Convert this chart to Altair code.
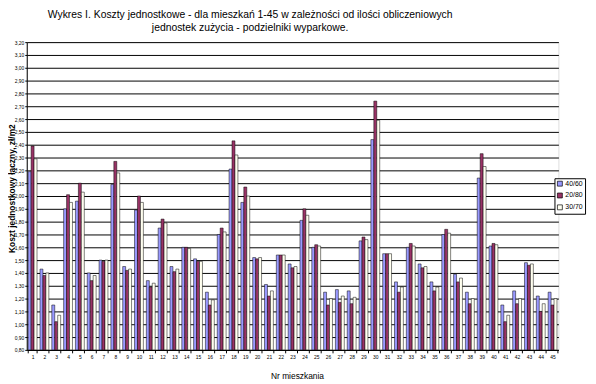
import altair as alt
import pandas as pd

apartments = list(range(1, 46))
series_names = ["40/60", "20/80", "30/70"]
colors = ["#9999FF", "#993366", "#FFFFF0"]

s40_60 = [2.19, 1.43, 1.15, 1.90, 1.96, 1.40, 1.50, 2.09, 1.45, 1.89,
          1.34, 1.75, 1.45, 1.60, 1.51, 1.25, 1.70, 2.21, 1.95, 1.52,
          1.31, 1.54, 1.47, 1.81, 1.60, 1.25, 1.27, 1.26, 1.65, 2.44,
          1.55, 1.33, 1.60, 1.47, 1.33, 1.70, 1.39, 1.25, 2.14, 1.61,
          1.15, 1.26, 1.48, 1.22, 1.25]
s20_80 = [2.39, 1.38, 1.02, 2.01, 2.10, 1.34, 1.49, 2.27, 1.42, 2.00,
          1.29, 1.82, 1.41, 1.60, 1.49, 1.15, 1.75, 2.43, 2.07, 1.51,
          1.22, 1.54, 1.44, 1.90, 1.62, 1.15, 1.17, 1.16, 1.68, 2.74,
          1.55, 1.25, 1.63, 1.44, 1.26, 1.74, 1.33, 1.16, 2.33, 1.63,
          1.02, 1.16, 1.46, 1.10, 1.15]
s30_70 = [2.29, 1.40, 1.07, 1.95, 2.03, 1.38, 1.50, 2.18, 1.43, 1.95,
          1.32, 1.79, 1.43, 1.59, 1.49, 1.19, 1.72, 2.32, 2.00, 1.52,
          1.26, 1.54, 1.45, 1.85, 1.61, 1.20, 1.22, 1.21, 1.66, 2.59,
          1.55, 1.29, 1.61, 1.45, 1.29, 1.71, 1.36, 1.20, 2.23, 1.62,
          1.07, 1.20, 1.47, 1.16, 1.20]

y_ticks = [round(0.8 + 0.1 * k, 2) for k in range(25)]

rows = []
for i, a in enumerate(apartments):
    for name, vals in zip(series_names, [s40_60, s20_80, s30_70]):
        rows.append({"nr": str(a), "seria": name, "koszt": vals[i], "base": 0.8})
df = pd.DataFrame(rows)

FONT = "Liberation Sans"

chart = alt.Chart(df).mark_bar(stroke="black", strokeWidth=0.5).encode(
    x=alt.X(
        "nr:N",
        sort=[str(a) for a in apartments],
        scale=alt.Scale(paddingInner=0.25, paddingOuter=0.12),
        axis=alt.Axis(
            title="Nr mieszkania",
            labelAngle=0,
            labelFontSize=5,
            labelFont=FONT,
            labelColor="black",
            tickBand="extent",
            tickSize=3,
            tickColor="black",
            domainColor="black",
            labelPadding=2,
            titleFont=FONT,
            titleFontSize=8.5,
            titleFontWeight="normal",
            titleColor="black",
            titleX=274,
            titleY=29,
            titleAlign="center",
            titleBaseline="alphabetic",
        ),
    ),
    xOffset=alt.XOffset("seria:N", sort=series_names),
    y=alt.Y(
        "koszt:Q",
        scale=alt.Scale(domain=[0.8, 3.2], zero=False, nice=False),
        axis=alt.Axis(
            title="Koszt jednostkowy łączny, zł/m2",
            values=y_ticks,
            labelExpr="replace(format(datum.value, '.2f'), '.', ',')",
            labelFontSize=5,
            labelFont=FONT,
            labelColor="black",
            tickSize=2,
            tickColor="black",
            domainColor="black",
            labelPadding=1,
            grid=True,
            gridColor="black",
            gridWidth=1,
            titleFont=FONT,
            titleFontSize=8.5,
            titleFontWeight="bold",
            titleColor="black",
            titleX=-15,
            titleY=148,
            titleAngle=270,
            titleAlign="center",
            titleBaseline="middle",
        ),
    ),
    y2="base:Q",
    color=alt.Color(
        "seria:N",
        sort=series_names,
        scale=alt.Scale(domain=series_names, range=colors),
        legend=alt.Legend(
            title=None,
            orient="none",
            legendX=535,
            legendY=138,
            strokeColor="black",
            fillColor="white",
            padding=2,
            symbolType="square",
            symbolSize=25,
            symbolStrokeColor="black",
            symbolStrokeWidth=0.7,
            labelFont=FONT,
            labelFontSize=7,
            labelColor="black",
            labelOffset=2,
            rowPadding=3,
        ),
    ),
).properties(
    width=539,
    height=312,
    title=alt.TitleParams(
        text=[
            "Wykres I.  Koszty jednostkowe - dla mieszkań 1-45 w zależności od ilości obliczeniowych",
            "jednostek zużycia - podzielniki wyparkowe.",
        ],
        font=FONT,
        fontSize=10.5,
        fontWeight="normal",
        color="black",
        anchor="middle",
        frame="group",
        dx=-43,
        offset=7,
        lineHeight=13,
    ),
    autosize=alt.AutoSizeParams(type="none"),
    padding={"left": 19, "top": 32, "right": 30, "bottom": 32},
).configure_view(
    fill="#C0C0C0",
    stroke="#808080",
    strokeWidth=1,
).configure(
    background="white",
)

chart.save("out.html", embed_options={"renderer": "svg", "actions": False})
